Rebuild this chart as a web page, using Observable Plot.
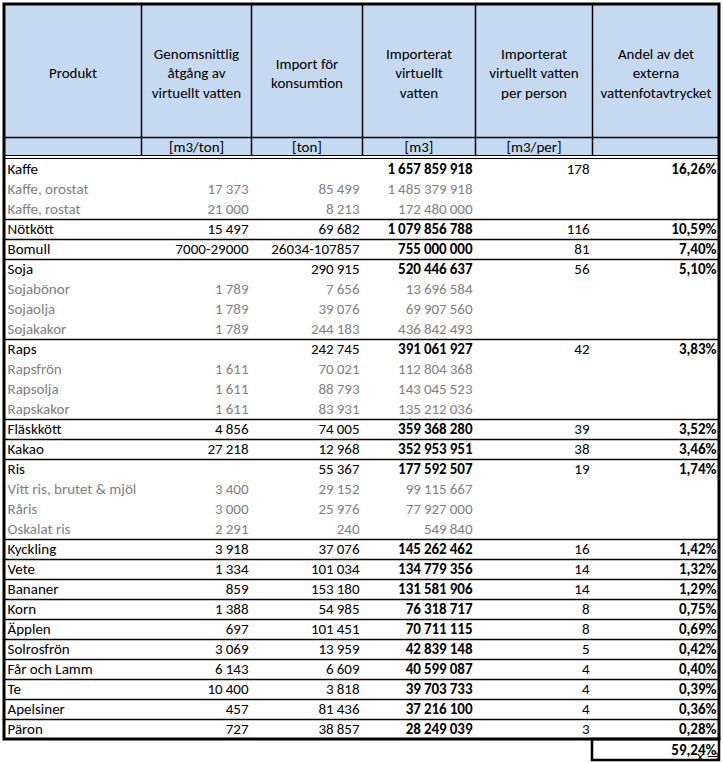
<!DOCTYPE html>
<html>
<head>
<meta charset="utf-8">
<script src="https://cdn.jsdelivr.net/npm/d3@7"></script>
<script src="https://cdn.jsdelivr.net/npm/@observablehq/plot@0.6"></script>
<style>
  html, body { margin: 0; padding: 0; background: #fff; }
  #chart svg { display: block; }
</style>
</head>
<body>
<div id="chart"></div>
<script>
// ---------- DATA ----------
const headers = [
  "Produkt",
  "Genomsnittlig\nåtgång av\nvirtuellt vatten",
  "Import för\nkonsumtion",
  "Importerat\nvirtuellt\nvatten",
  "Importerat\nvirtuellt vatten\nper person",
  "Andel av det\nexterna\nvattenfotavtrycket"
];
const units = ["", "[m3/ton]", "[ton]", "[m3]", "[m3/per]", ""];

const products = ["Kaffe","Kaffe, orostat","Kaffe, rostat","Nötkött","Bomull","Soja","Sojabönor","Sojaolja","Sojakakor","Raps","Rapsfrön","Rapsolja","Rapskakor","Fläskkött","Kakao","Ris","Vitt ris, brutet & mjöl","Råris","Oskalat ris","Kyckling","Vete","Bananer","Korn","Äpplen","Solrosfrön","Får och Lamm","Te","Apelsiner","Päron"];
const isSub = [0,1,1,0,0,0,1,1,1,0,1,1,1,0,0,0,1,1,1,0,0,0,0,0,0,0,0,0,0];
const atgang = [null,17373,21000,15497,"7000-29000",null,1789,1789,1789,null,1611,1611,1611,4856,27218,null,3400,3000,2291,3918,1334,859,1388,697,3069,6143,10400,457,727];
const importTon = [null,85499,8213,69682,"26034-107857",290915,7656,39076,244183,242745,70021,88793,83931,74005,12968,55367,29152,25976,240,37076,101034,153180,54985,101451,13959,6609,3818,81436,38857];
const vatten = [1657859918,1485379918,172480000,1079856788,755000000,520446637,13696584,69907560,436842493,391061927,112804368,143045523,135212036,359368280,352953951,177592507,99115667,77927000,549840,145262462,134779356,131581906,76318717,70711115,42839148,40599087,39703733,37216100,28249039];
const perPerson = [178,null,null,116,81,56,null,null,null,42,null,null,null,39,38,19,null,null,null,16,14,14,8,8,5,4,4,4,3];
const andel = [16.26,null,null,10.59,7.40,5.10,null,null,null,3.83,null,null,null,3.52,3.46,1.74,null,null,null,1.42,1.32,1.29,0.75,0.69,0.42,0.40,0.39,0.36,0.28];
const totalAndel = 59.24;

// ---------- LAYOUT ----------
const W = 723, H = 763;
const colEdges = [4, 141, 251, 362, 475, 592, 719];
const headTop = 4, headLine = 137, unitsBottom = 155, bodyTop = 159, rowH = 20;
const font = "Carlito, Calibri, Lato, sans-serif";
const fs = 15;

const fmtInt = v => v == null ? "" : (typeof v === "number" ? d3.format(",d")(v).replace(/,/g, "\u2009") : v);
const fmtPct = v => v == null ? "" : d3.format(".2f")(v).replace(".", ",") + "%";

const n = products.length;
const rowY = i => bodyTop + rowH * i + rowH / 2;
const bodyBottom = bodyTop + rowH * n;

const rows = products.map((p, i) => ({
  i, p, sub: !!isSub[i],
  cells: [p, fmtInt(atgang[i]), fmtInt(importTon[i]), fmtInt(vatten[i]), fmtInt(perPerson[i]), fmtPct(andel[i])]
}));

const cellData = [];
rows.forEach(r => r.cells.forEach((t, c) => {
  if (t === "") return;
  cellData.push({
    text: t, c, y: rowY(r.i),
    x: c === 0 ? colEdges[0] + 3 : colEdges[c + 1] - 3,
    color: r.sub ? "#808080" : "#000",
    bold: !r.sub && (c === 3 || c === 5)
  });
}));

const totalData = [{text: fmtPct(totalAndel), y: bodyBottom + rowH / 2 + 1, x: colEdges[6] - 3}];

const headData = headers.map((h, c) => ({text: h, x: (colEdges[c] + colEdges[c + 1]) / 2, y: (headTop + headLine) / 2 + 1}));
const unitData = units.map((u, c) => ({text: u, x: (colEdges[c] + colEdges[c + 1]) / 2, y: (headLine + unitsBottom) / 2 + 1})).filter(d => d.text);

const groupLines = rows.filter(r => !r.sub && r.i > 0).map(r => bodyTop + rowH * r.i);

const plot = Plot.plot({
  width: W, height: H,
  margin: 0,
  x: {type: "identity"}, y: {type: "identity"},
  style: {fontFamily: font, fontSize: fs + "px", background: "#fff"},
  marks: [
    Plot.rect([{}], {x1: colEdges[0], x2: colEdges[6], y1: headTop, y2: unitsBottom, fill: "#c5d9f1"}),
    Plot.ruleX(colEdges.slice(1, 6), {y1: headTop, y2: unitsBottom, stroke: "#000", strokeWidth: 1.5}),
    Plot.ruleY([headLine], {x1: colEdges[0], x2: colEdges[6], stroke: "#000", strokeWidth: 1.5}),
    Plot.ruleY([unitsBottom, unitsBottom + 3], {x1: colEdges[0], x2: colEdges[6], stroke: "#000", strokeWidth: 1}),
    Plot.ruleY(groupLines, {x1: colEdges[0], x2: colEdges[6], stroke: "#000", strokeWidth: 1.5}),
    Plot.rect([{}], {x1: colEdges[0], x2: colEdges[6], y1: headTop, y2: bodyBottom, fill: "none", stroke: "#000", strokeWidth: 3}),
    Plot.rect([{}], {x1: colEdges[5], x2: colEdges[6], y1: bodyBottom, y2: bodyBottom + rowH + 1, fill: "none", stroke: "#000", strokeWidth: 2.5}),
    Plot.text(headData, {x: "x", y: "y", text: "text", textAnchor: "middle", lineAnchor: "middle", lineHeight: 1.3, fill: "#000", fontSize: fs}),
    Plot.text(unitData, {x: "x", y: "y", text: "text", textAnchor: "middle", lineAnchor: "middle", fill: "#000", fontSize: fs}),
    Plot.text(cellData.filter(d => d.c === 0), {x: "x", y: "y", text: "text", textAnchor: "start", lineAnchor: "middle", fill: "color", fontSize: fs}),
    Plot.text(cellData.filter(d => d.c > 0 && !d.bold), {x: "x", y: "y", text: "text", textAnchor: "end", lineAnchor: "middle", fill: "color", fontSize: fs}),
    Plot.text(cellData.filter(d => d.bold), {x: "x", y: "y", text: "text", textAnchor: "end", lineAnchor: "middle", fill: "color", fontWeight: "bold", fontSize: fs}),
    Plot.text(totalData, {x: "x", y: "y", text: "text", textAnchor: "end", lineAnchor: "middle", fill: "#000", fontWeight: "bold", fontSize: fs})
  ]
});
document.getElementById("chart").appendChild(plot);
</script>
</body>
</html>
